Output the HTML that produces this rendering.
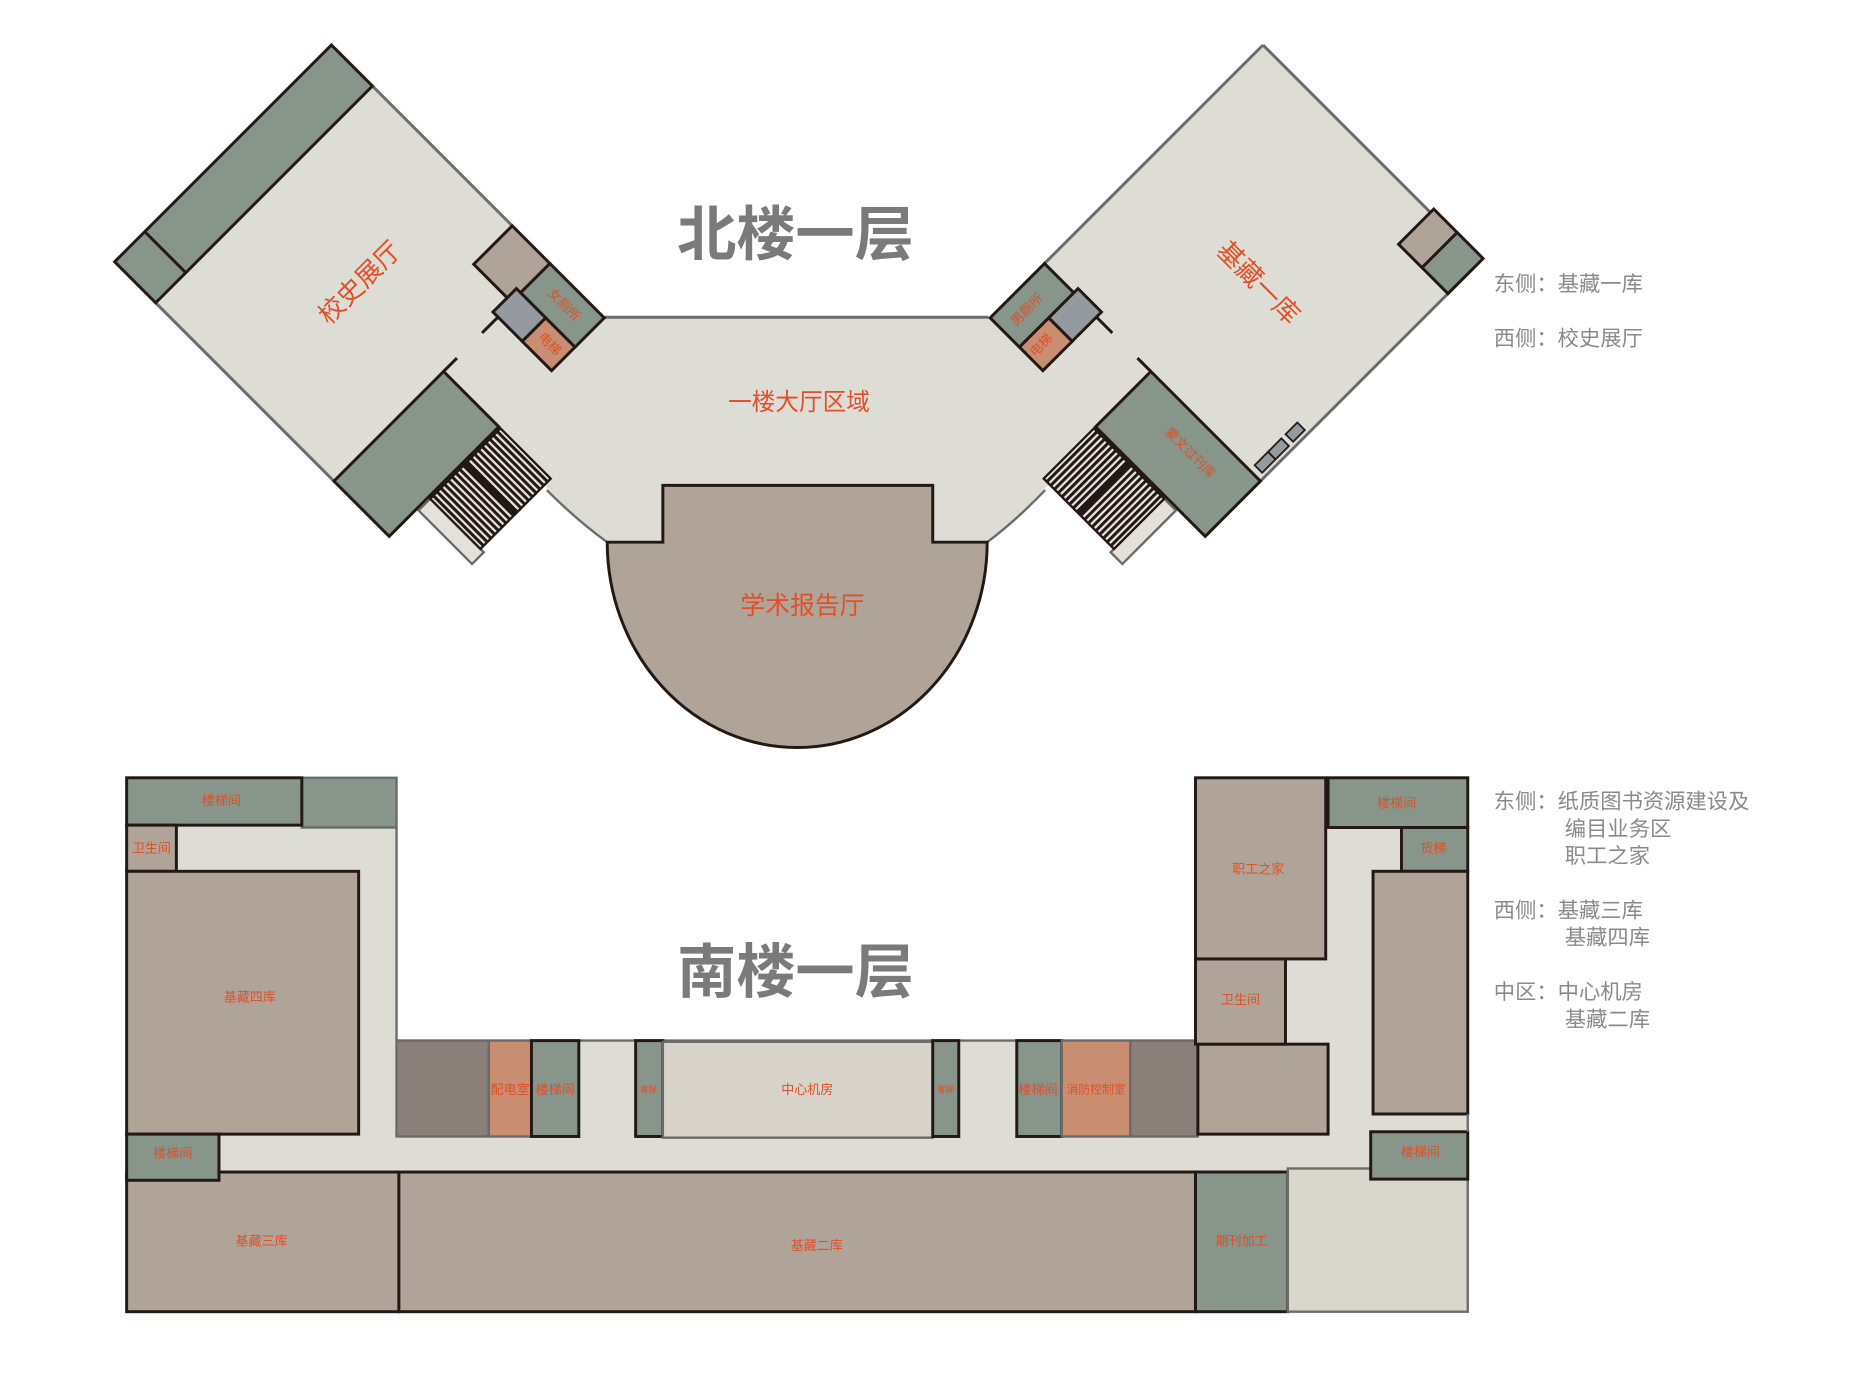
<!DOCTYPE html>
<html><head><meta charset="utf-8"><style>
html,body{margin:0;padding:0;background:#fff;}
svg{display:block;}
text{font-family:"Liberation Sans","Noto Sans CJK SC",sans-serif;}
.r{fill:#e0502a;text-anchor:middle;dominant-baseline:middle;}
.lg{fill:#8a8a8a;font-size:18px;}
</style></head><body>
<svg width="1856" height="1378" viewBox="0 0 1568 1164" preserveAspectRatio="none" xmlns="http://www.w3.org/2000/svg">
<defs>
<pattern id="st" width="4" height="4.5" patternUnits="userSpaceOnUse">
<rect width="4" height="4.5" fill="#e8e6df"/><rect y="0" width="4" height="2.6" fill="#231815"/>
</pattern>
<g id="wingcore">
  <rect x="262" y="128" width="66" height="131" fill="#87958a" stroke="#231815" stroke-width="2.5"/>
  <rect x="330" y="212" width="64" height="14" fill="#e2e1da" stroke="#6b6b6b" stroke-width="2"/>
  <rect x="330" y="128" width="60" height="84" fill="url(#st)" stroke="#231815" stroke-width="2"/>
  <line x1="330" y1="170" x2="390" y2="170" stroke="#231815" stroke-width="3"/>
  <rect x="261" y="0" width="65" height="35" fill="#87958a" stroke="#231815" stroke-width="2.5"/>
  <rect x="256" y="35" width="35" height="28" fill="#959aa0" stroke="#231815" stroke-width="2.5"/>
  <rect x="291" y="35" width="35" height="28" fill="#c98e72" stroke="#231815" stroke-width="2.5"/>
  <line x1="262" y1="63" x2="262" y2="82" stroke="#231815" stroke-width="2.5"/>
  <line x1="262" y1="112" x2="262" y2="128" stroke="#231815" stroke-width="2.5"/>
</g>
</defs>

<path d="M511,268 L835,268 L940,373 L883,412 Q858,440 834,458 L513,458 Q488,440 462,412 L407,357 Z" fill="#deddd5"/>
<line x1="511" y1="268" x2="835" y2="268" stroke="#6b6b6b" stroke-width="2.5"/>
<path d="M462,414 Q488,440 513,458" fill="none" stroke="#6b6b6b" stroke-width="2"/>
<path d="M883,414 Q858,440 834,458" fill="none" stroke="#6b6b6b" stroke-width="2"/>

<g transform="translate(280,38) rotate(45)">
  <rect x="0" y="0" width="328" height="259" fill="#deddd5"/>
  <line x1="49" y1="0" x2="216" y2="0" stroke="#6b6b6b" stroke-width="2.5"/>
  <line x1="49" y1="259" x2="262" y2="259" stroke="#6b6b6b" stroke-width="2.5"/>
  <rect x="0" y="0" width="49" height="259" fill="#87958a" stroke="#231815" stroke-width="2.5"/>
  <line x1="0" y1="223" x2="49" y2="223" stroke="#231815" stroke-width="2.5"/>
  <rect x="216" y="0" width="45" height="46" fill="#b0a498" stroke="#231815" stroke-width="2.5"/>
  <use href="#wingcore"/>
</g>

<g transform="translate(1347,0) scale(-1,1)">
<g transform="translate(280,38) rotate(45)">
  <rect x="0" y="0" width="328" height="259" fill="#deddd5"/>
  <line x1="0" y1="0" x2="0" y2="259" stroke="#6b6b6b" stroke-width="2.5"/>
  <line x1="0" y1="0" x2="261" y2="0" stroke="#6b6b6b" stroke-width="2.5"/>
  <line x1="0" y1="259" x2="262" y2="259" stroke="#6b6b6b" stroke-width="2.5"/>
  <rect x="-4" y="200" width="42" height="28" fill="#b0a498" stroke="#231815" stroke-width="2.5"/>
  <rect x="-4" y="228" width="42" height="31" fill="#87958a" stroke="#231815" stroke-width="2.5"/>
  <rect x="205" y="246" width="14" height="9" fill="#959aa0" stroke="#231815" stroke-width="1.5"/>
  <rect x="224" y="246" width="16" height="9" fill="#959aa0" stroke="#231815" stroke-width="1.5"/>
  <rect x="240" y="246" width="16" height="9" fill="#959aa0" stroke="#231815" stroke-width="1.5"/>
  <use href="#wingcore"/>
</g>
</g>

<path d="M513,458 L560,458 L560,410 L788,410 L788,458 L834,458 A160,173 0 0 1 513,458 Z" fill="#b0a498" stroke="#231815" stroke-width="2.5"/>

<text x="672" y="202" text-anchor="middle" dominant-baseline="middle" font-size="50" font-weight="bold" fill="#7a7a7a">北楼一层</text>
<text class="r" x="305" y="240" font-size="22" transform="rotate(-45 305 240)">校史展厅</text>
<text class="r" x="1062" y="240" font-size="22" transform="rotate(45 1062 240)">基藏一库</text>
<text class="r" x="675" y="341" font-size="20">一楼大厅区域</text>
<text class="r" x="678" y="513" font-size="21">学术报告厅</text>
<text class="r" x="476" y="258" font-size="11" transform="rotate(45 476 258)">女厕所</text>
<text class="r" x="464" y="291" font-size="11" transform="rotate(45 464 291)">电梯</text>
<text class="r" x="868" y="262" font-size="11" transform="rotate(-45 868 262)">男厕所</text>
<text class="r" x="880" y="292" font-size="11" transform="rotate(-45 880 292)">电梯</text>
<text class="r" x="1005" y="383" font-size="11" transform="rotate(45 1005 383)">蒙文过刊库</text>

<text class="lg" x="1262" y="246">东侧：基藏一库</text>
<text class="lg" x="1262" y="292">西侧：校史展厅</text>

<g stroke-width="2.5">
<rect x="149" y="697" width="186" height="40" fill="#deddd5"/>
<rect x="303" y="697" width="32" height="295" fill="#deddd5"/>
<rect x="185" y="958" width="975" height="33" fill="#deddd5"/>
<rect x="335" y="879" width="677" height="82" fill="#deddd5"/>
<rect x="1086" y="697" width="74" height="294" fill="#deddd5"/>
<rect x="1120" y="697" width="66" height="40" fill="#deddd5"/>
<rect x="1158" y="938" width="82" height="20" fill="#deddd5"/>
<line x1="335" y1="879" x2="1012" y2="879" stroke="#6b6b6b" stroke-width="2"/>
<line x1="335" y1="699" x2="335" y2="879" stroke="#6b6b6b" stroke-width="2"/>
<rect x="255" y="657" width="80" height="42" fill="#87958a" stroke="#6b6b6b" stroke-width="2"/>
<rect x="107" y="657" width="148" height="40" fill="#87958a" stroke="#231815"/>
<rect x="107" y="697" width="42" height="39" fill="#b0a498" stroke="#231815"/>
<rect x="107" y="736" width="196" height="222" fill="#b0a498" stroke="#231815"/>
<rect x="107" y="990" width="230" height="118" fill="#b0a498" stroke="#231815"/>
<rect x="107" y="958" width="78" height="39" fill="#87958a" stroke="#231815"/>
<rect x="337" y="990" width="673" height="118" fill="#b0a498" stroke="#231815"/>
<rect x="1010" y="990" width="78" height="118" fill="#87958a" stroke="#231815"/>
<rect x="1088" y="987" width="152" height="121" fill="#d9d6cc" stroke="#6b6b6b" stroke-width="2"/>
<rect x="335" y="879" width="78" height="81" fill="#8b7f79" stroke="#6b6b6b" stroke-width="2"/>
<rect x="413" y="879" width="36" height="81" fill="#c98e72" stroke="#6b6b6b" stroke-width="2"/>
<rect x="449" y="879" width="40" height="81" fill="#87958a" stroke="#231815"/>
<rect x="537" y="879" width="23" height="81" fill="#87958a" stroke="#231815"/>
<rect x="560" y="880" width="228" height="81" fill="#d7d3c9" stroke="#6b6b6b" stroke-width="2"/>
<rect x="788" y="879" width="22" height="81" fill="#87958a" stroke="#231815"/>
<rect x="859" y="879" width="38" height="81" fill="#87958a" stroke="#231815"/>
<rect x="897" y="879" width="58" height="81" fill="#c98e72" stroke="#6b6b6b" stroke-width="2"/>
<rect x="955" y="879" width="57" height="81" fill="#8b7f79" stroke="#6b6b6b" stroke-width="2"/>
<rect x="1012" y="882" width="110" height="76" fill="#b0a498" stroke="#231815"/>
<rect x="1010" y="810" width="76" height="72" fill="#b0a498" stroke="#231815"/>
<rect x="1010" y="657" width="110" height="153" fill="#b0a498" stroke="#231815"/>
<rect x="1122" y="657" width="118" height="42" fill="#87958a" stroke="#231815"/>
<rect x="1184" y="699" width="56" height="37" fill="#87958a" stroke="#231815"/>
<rect x="1160" y="736" width="80" height="205" fill="#b0a498" stroke="#231815"/>
<rect x="1158" y="956" width="82" height="40" fill="#87958a" stroke="#231815"/>
<line x1="1240" y1="941" x2="1240" y2="956" stroke="#6b6b6b" stroke-width="2"/>
</g>

<text x="672" y="825" text-anchor="middle" dominant-baseline="middle" font-size="50" font-weight="bold" fill="#7a7a7a">南楼一层</text>

<g font-size="11">
<text class="r" x="187" y="677">楼梯间</text>
<text class="r" x="128" y="717">卫生间</text>
<text class="r" x="211" y="843">基藏四库</text>
<text class="r" x="146" y="975">楼梯间</text>
<text class="r" x="221" y="1049">基藏三库</text>
<text class="r" x="690" y="1053">基藏二库</text>
<text class="r" x="1049" y="1049">期刊加工</text>
<text class="r" x="431" y="921">配电室</text>
<text class="r" x="469" y="921">楼梯间</text>
<text class="r" x="548" y="921" font-size="7">客梯</text>
<text class="r" x="682" y="921">中心机房</text>
<text class="r" x="799" y="921" font-size="7">客梯</text>
<text class="r" x="877" y="921">楼梯间</text>
<text class="r" x="926" y="921" font-size="10">消防控制室</text>
<text class="r" x="1063" y="735">职工之家</text>
<text class="r" x="1048" y="845">卫生间</text>
<text class="r" x="1180" y="679">楼梯间</text>
<text class="r" x="1211" y="717">货梯</text>
<text class="r" x="1200" y="974">楼梯间</text>
</g>

<text class="lg" x="1262" y="683">东侧：纸质图书资源建设及</text>
<text class="lg" x="1322" y="706">编目业务区</text>
<text class="lg" x="1322" y="729">职工之家</text>
<text class="lg" x="1262" y="775">西侧：基藏三库</text>
<text class="lg" x="1322" y="798">基藏四库</text>
<text class="lg" x="1262" y="844">中区：中心机房</text>
<text class="lg" x="1322" y="867">基藏二库</text>
</svg>
</body></html>
